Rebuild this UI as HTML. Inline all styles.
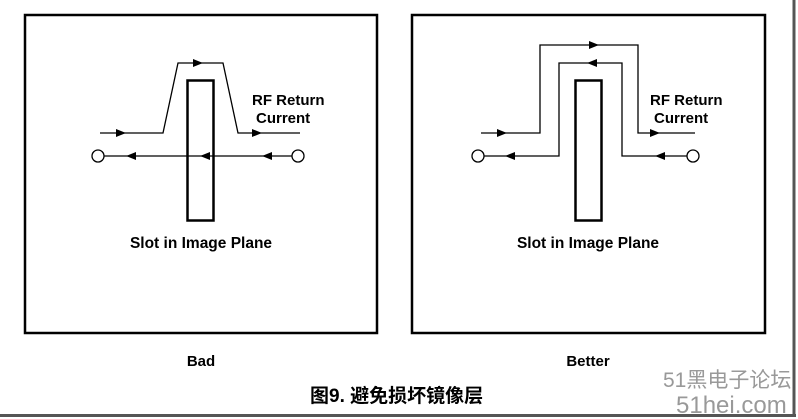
<!DOCTYPE html>
<html><head><meta charset="utf-8"><style>
html,body{margin:0;padding:0;background:#fff;width:798px;height:419px;overflow:hidden}
</style></head><body>
<svg width="798" height="419" xmlns="http://www.w3.org/2000/svg" font-family="Liberation Sans, Noto Sans CJK SC, sans-serif">
<line x1="0" y1="415.5" x2="796" y2="415.5" stroke="#555" stroke-width="3"/>
<line x1="794" y1="0" x2="794" y2="417" stroke="#555" stroke-width="3"/>
<rect x="25" y="15" width="352" height="318" fill="none" stroke="#000" stroke-width="2.5"/>
<rect x="412" y="15" width="353" height="318" fill="none" stroke="#000" stroke-width="2.5"/>
<g stroke="#000" stroke-width="1.3" fill="none">
<polyline points="100,133 163,133 178,63 223,63 238,133 300,133"/>
<line x1="104" y1="156" x2="292" y2="156"/>
<circle cx="98" cy="156" r="6"/><circle cx="298" cy="156" r="6"/>
<rect x="187.5" y="80.5" width="26" height="140" stroke-width="2.5"/>
<polyline points="481,133 540,133 540,45 638,45 638,133 695,133"/>
<polyline points="484,156 559,156 559,63 622,63 622,156 687,156"/>
<circle cx="478" cy="156" r="6"/><circle cx="693" cy="156" r="6"/>
<rect x="575.5" y="80.5" width="26" height="140" stroke-width="2.5"/>
</g>
<g fill="#000">
<path d="M116,129 L126,133 L116,137z"/>
<path d="M193,59 L203,63 L193,67z"/>
<path d="M252,129 L262,133 L252,137z"/>
<path d="M136,152 L126,156 L136,160z"/>
<path d="M210,152 L200,156 L210,160z"/>
<path d="M272,152 L262,156 L272,160z"/>
<path d="M497,129 L507,133 L497,137z"/>
<path d="M589,41 L599,45 L589,49z"/>
<path d="M650,129 L660,133 L650,137z"/>
<path d="M515,152 L505,156 L515,160z"/>
<path d="M597,59 L587,63 L597,67z"/>
<path d="M665,152 L655,156 L665,160z"/>
</g>
<g font-weight="bold" font-size="15" fill="#000">
<text x="252" y="105">RF Return</text>
<text x="256" y="123">Current</text>
<text x="650" y="105">RF Return</text>
<text x="654" y="123">Current</text>
<text x="201" y="248" text-anchor="middle" font-size="15.5">Slot in Image Plane</text>
<text x="588" y="248" text-anchor="middle" font-size="15.5">Slot in Image Plane</text>
<text x="201" y="366" text-anchor="middle" font-size="15">Bad</text>
<text x="588" y="366" text-anchor="middle" font-size="15">Better</text>
<text x="310" y="402" font-size="19">图9. 避免损坏镜像层</text>
</g>
<text x="663" y="387" font-size="21" fill="#999">51黑电子论坛</text>
<text x="676" y="413" font-size="24" fill="#999">51hei.com</text>
</svg>
</body></html>
